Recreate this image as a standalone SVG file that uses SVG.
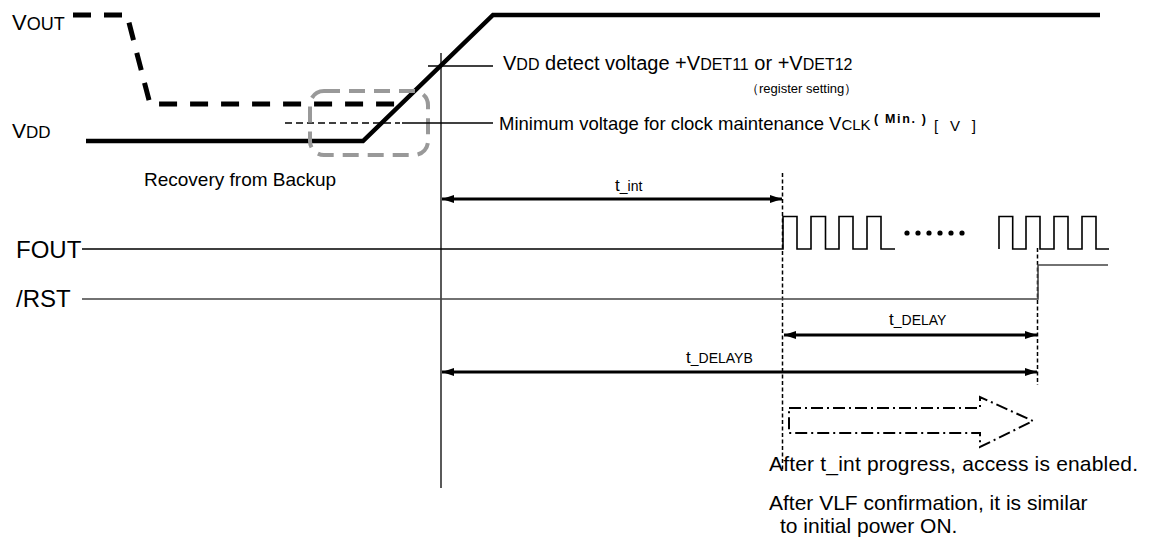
<svg xmlns="http://www.w3.org/2000/svg" width="1152" height="541" viewBox="0 0 1152 541">
<style>
text{font-family:"Liberation Sans",Arial,sans-serif;fill:#000}
.thin{fill:none;stroke:#000;stroke-width:1.3}
.sig{fill:none;stroke:#000;stroke-width:1.6}
.vdd{fill:none;stroke:#000;stroke-width:4.5;stroke-linejoin:miter}
.vout{fill:none;stroke:#000;stroke-width:5;stroke-dasharray:18 13}
.dim{fill:none;stroke:#000;stroke-width:3;marker-start:url(#ah);marker-end:url(#ah)}
.vdash{fill:none;stroke:#000;stroke-width:1.5;stroke-dasharray:4 2.5}
.note{font-size:21px}
</style>
<defs>
<marker id="ah" viewBox="0 0 12 8" refX="12" refY="4" markerWidth="12" markerHeight="8" markerUnits="userSpaceOnUse" orient="auto-start-reverse">
<path d="M0,0 L12,4 L0,8 Z" fill="#000"/>
</marker>
</defs>
<rect width="1152" height="541" fill="#fff"/>

<g id="vout">
<path class="vout" d="M73,15 H127 L150,104 H398"/>
<text x="12" y="30"><tspan font-size="22">V</tspan><tspan font-size="18">OUT</tspan></text>
</g>

<g id="vdd">
<path class="vdd" d="M86,141 H363 L493,15 H1100"/>
<text x="12" y="138"><tspan font-size="21">V</tspan><tspan font-size="17">DD</tspan></text>
<path d="M285,123 H400" fill="none" stroke="#000" stroke-width="1.5" stroke-dasharray="7 4"/>
</g>

<g id="backup-box">
<rect x="310" y="91" width="118" height="64" rx="14" fill="none" stroke="#999" stroke-width="4" stroke-dasharray="16 9"/>
<text x="144" y="186" font-size="19">Recovery from Backup</text>
</g>

<g id="vdet-label">
<path class="thin" d="M428,66 H493"/>
<text x="503" y="70"><tspan font-size="20">V</tspan><tspan font-size="16">DD</tspan><tspan font-size="20"> detect voltage +V</tspan><tspan font-size="16">DET11</tspan><tspan font-size="20"> or +V</tspan><tspan font-size="16">DET12</tspan></text>
<text x="746" y="93" font-size="13" font-family="'Liberation Sans','Noto Sans CJK JP',sans-serif">（register setting）</text>
</g>

<g id="vclk-label">
<path class="thin" d="M402,123 H493"/>
<text x="499" y="130"><tspan font-size="18.5">Minimum voltage for clock maintenance V</tspan><tspan font-size="15">CLK</tspan></text>
<text x="874" y="123" font-size="12.5" font-weight="bold" textLength="52" lengthAdjust="spacing">( Min. )</text>
<text x="934" y="131" font-size="15" textLength="42" lengthAdjust="spacing">[ V ]</text>
</g>

<g id="markers-vertical">
<path class="thin" d="M441,53 V488"/>
<path class="vdash" d="M782.5,173 V472"/>
<path class="vdash" d="M1037.5,248 V385"/>
</g>

<g id="fout">
<text x="16" y="258" font-size="24">FOUT</text>
<path class="sig" d="M82,249 H783 V216.5 H797 V249 H811 V216.5 H825.5 V249 H839 V216.5 H853 V249 H867 V216.5 H881 V249 H895"/>
<g fill="#000">
<circle cx="907" cy="233" r="2.6"/><circle cx="918" cy="233" r="2.6"/><circle cx="929" cy="233" r="2.6"/><circle cx="940" cy="233" r="2.6"/><circle cx="951" cy="233" r="2.6"/><circle cx="962" cy="233" r="2.6"/>
</g>
<path class="sig" d="M999,249 V216.5 H1012.7 V249 H1026 V216.5 H1040 V249 H1054 V216.5 H1068 V249 H1082 V216.5 H1096 V249 H1109"/>
</g>

<g id="rst">
<text x="16" y="307" font-size="24">/RST</text>
<path d="M82,299 H1038 V265 H1108" fill="none" stroke="#444" stroke-width="1.6"/>
</g>

<g id="connectors">
<path class="dim" d="M442,199 H782"/>
<path class="dim" d="M784,335 H1037"/>
<path class="dim" d="M442,372 H1037"/>
<path d="M789,408 H980 V397 L1033,421 L980,447 V433 H789 Z" fill="none" stroke="#000" stroke-width="2" stroke-dasharray="12 4 2 4"/>
</g>

<g id="time-labels">
<text x="615" y="191"><tspan font-size="17">t</tspan><tspan font-size="14">_int</tspan></text>
<text x="889" y="325"><tspan font-size="17">t</tspan><tspan font-size="14">_DELAY</tspan></text>
<text x="686" y="363"><tspan font-size="17">t</tspan><tspan font-size="14">_DELAYB</tspan></text>
</g>

<g id="notes">
<text class="note" x="769" y="471" textLength="369">After t_int progress, access is enabled.</text>
<text class="note" x="769" y="510">After VLF confirmation, it is similar</text>
<text class="note" x="780" y="533">to initial power ON.</text>
</g>
</svg>
